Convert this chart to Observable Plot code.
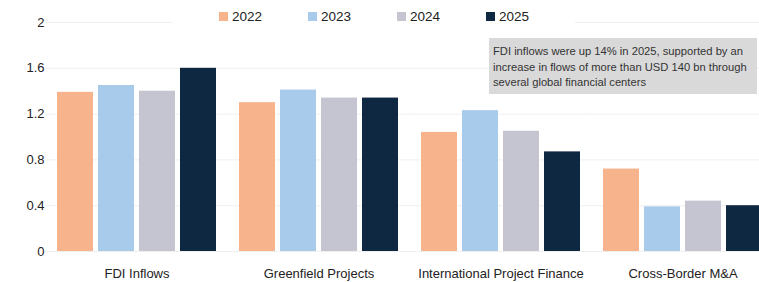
<!DOCTYPE html>
<html>
<head>
<meta charset="utf-8">
<script src="https://cdn.jsdelivr.net/npm/d3@7"></script>
<script src="https://cdn.jsdelivr.net/npm/@observablehq/plot@0.6"></script>
<style>
  html, body { margin: 0; padding: 0; background: #fff; }
  #wrap { position: relative; width: 759px; height: 282px; font-family: "Liberation Sans", Arial, sans-serif; }
  #legend { position: absolute; left: 172px; top: 4px; width: 403px; height: 24px; background: #fff;
            display: flex; padding-left: 47px; box-sizing: border-box; align-items: center; }
  .item { width: 90.7px; display: flex; align-items: center; font-size: 13.5px; color: #222; }
  .sw { width: 9px; height: 9px; margin-right: 4px; }
  #note { position: absolute; left: 489px; top: 38px; width: 268px; height: 56px; background: #d9d9d9;
          box-sizing: border-box; padding: 6px 0 0 4px; font-size: 11.2px; line-height: 15.5px; color: #333; }
</style>
</head>
<body>
<div id="wrap"></div>
<script>
const categories = ["FDI Inflows", "Greenfield Projects", "International Project Finance", "Cross-Border M&A"];
const years = ["2022", "2023", "2024", "2025"];
const colors = ["#f7b38c", "#a8cbeb", "#c5c5d1", "#0f2841"];
const v2022 = [1.39, 1.30, 1.04, 0.72];
const v2023 = [1.45, 1.41, 1.23, 0.39];
const v2024 = [1.40, 1.34, 1.05, 0.44];
const v2025 = [1.60, 1.34, 0.87, 0.40];
const yTicks = [0, 0.4, 0.8, 1.2, 1.6, 2];
const noteLines = ["FDI inflows were up 14% in 2025, supported by an", "increase in flows of more than USD 140 bn through", "several global financial centers"];

const series = [v2022, v2023, v2024, v2025];
const data = [];
categories.forEach((c, i) => years.forEach((y, j) => data.push({category: c, year: y, value: series[j][i]})));

const chart = Plot.plot({
  width: 759,
  height: 282,
  marginLeft: 45,
  marginRight: 0,
  marginTop: 22,
  marginBottom: 31,
  style: {fontFamily: "'Liberation Sans', Arial, sans-serif", fontSize: "13px", color: "#222", background: "transparent"},
  fx: {domain: categories, range: [45.5, 773.5], paddingInner: 0.1154, paddingOuter: 0.0577, axis: "bottom", tickSize: 0, tickPadding: 17, label: null},
  x: {domain: years, paddingInner: 0.12, paddingOuter: 0, axis: null},
  y: {domain: [0, 2], ticks: yTicks, tickFormat: d => `${d}`, tickSize: 0, tickPadding: 12, label: null},
  color: {domain: years, range: colors},
  marks: [
    Plot.ruleY(yTicks, {stroke: "#efefef", strokeWidth: 1, insetLeft: -10.6, insetRight: -10.6}),
    Plot.barY(data, {fx: "category", x: "year", y: "value", fill: "year"})
  ]
});

const wrap = document.getElementById("wrap");
wrap.appendChild(chart);

const legend = document.createElement("div");
legend.id = "legend";
years.forEach((y, i) => {
  const it = document.createElement("div");
  it.className = "item";
  it.innerHTML = `<span class="sw" style="background:${colors[i]}"></span><span>${y}</span>`;
  legend.appendChild(it);
});
wrap.appendChild(legend);

const note = document.createElement("div");
note.id = "note";
note.innerHTML = noteLines.map(l => `<div>${l}</div>`).join("");
wrap.appendChild(note);
</script>
</body>
</html>
